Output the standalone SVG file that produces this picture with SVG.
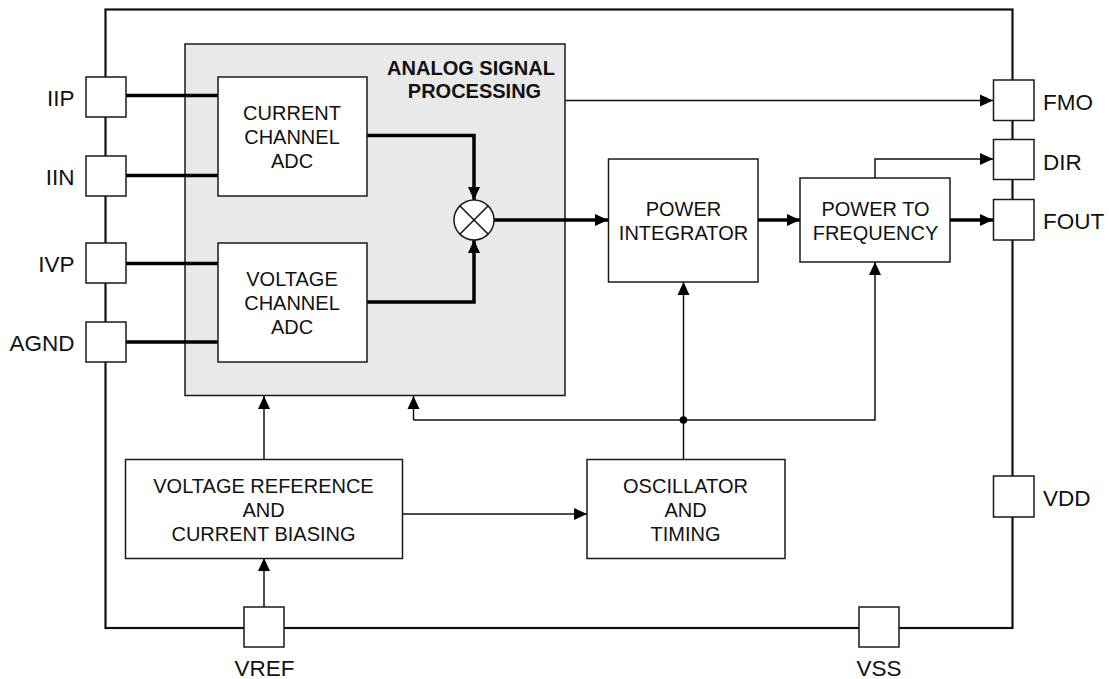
<svg xmlns="http://www.w3.org/2000/svg" width="1109" height="679" viewBox="0 0 1109 679">
<style>
.b{fill:#fff;stroke:#1a1a1a;stroke-width:1.5}
.w{fill:none;stroke:#111;stroke-width:1.5}
.t{fill:none;stroke:#000;stroke-width:3.5}
text{font-family:"Liberation Sans",Arial,sans-serif;font-size:20px;fill:#111;text-anchor:middle}
.l{font-size:22.5px}
.e{text-anchor:end}
.s{text-anchor:start}
.h{font-weight:700}
</style>
<defs>
<marker id="a" markerUnits="userSpaceOnUse" markerWidth="14" markerHeight="14" refX="13" refY="7" orient="auto"><path d="M0,1 L13,7 L0,13 Z" fill="#000"/></marker>
</defs>
<rect id="chip" x="105.500" y="9.500" width="907" height="618.500" fill="none" stroke="#111" stroke-width="2.200"/>
<g id="analog"><rect x="185" y="44" width="380" height="351.500" fill="#e9e9e9" stroke="#1a1a1a" stroke-width="1.500"/>
<text class="h" x="471" y="75">ANALOG SIGNAL</text><text class="h" x="474.500" y="98">PROCESSING</text></g>
<g id="connectors">
<path class="t" d="M126,95.500H218M126,175.500H218M126,263.500H218M126,342H218"/>
<path class="t" d="M367,135.500H474V200" marker-end="url(#a)"/>
<path class="t" d="M367,302H474V240" marker-end="url(#a)"/>
<path class="t" d="M494,220H608" marker-end="url(#a)"/>
<path class="t" d="M758,220H800" marker-end="url(#a)"/>
<path class="t" d="M950,220H993" marker-end="url(#a)"/>
<path class="w" d="M565,100.500H993" marker-end="url(#a)"/>
<path class="w" d="M875,178V159H993" marker-end="url(#a)"/>
<path class="w" d="M683.500,459V282" marker-end="url(#a)"/>
<path class="w" d="M413.500,420V396" marker-end="url(#a)"/>
<path class="w" d="M413.500,420H875V262" marker-end="url(#a)"/>
<path class="w" d="M264,459V396" marker-end="url(#a)"/>
<path class="w" d="M264,607V558" marker-end="url(#a)"/>
<path class="w" d="M402,514H587" marker-end="url(#a)"/>
<circle cx="683.500" cy="420" r="3.800" fill="#000"/>
</g>
<g id="adc-current"><rect class="b" x="218" y="77" width="149" height="119"/><text x="292" y="120">CURRENT</text><text x="292" y="144">CHANNEL</text><text x="292" y="167.500">ADC</text></g>
<g id="adc-voltage"><rect class="b" x="218" y="243" width="149" height="119"/><text x="292" y="286">VOLTAGE</text><text x="292" y="310">CHANNEL</text><text x="292" y="333.500">ADC</text></g>
<g id="multiplier"><circle class="b" cx="474" cy="220" r="20"/><path class="w" d="M460,206L488,234M488,206L460,234"/></g>
<g id="integrator"><rect class="b" x="608.500" y="159" width="149.500" height="123"/><text x="683.500" y="216">POWER</text><text x="683.500" y="240">INTEGRATOR</text></g>
<g id="p2f"><rect class="b" x="800" y="178" width="150" height="84"/><text x="875.500" y="216">POWER TO</text><text x="875.500" y="240">FREQUENCY</text></g>
<g id="vref-block"><rect class="b" x="125.500" y="459.500" width="277" height="99"/><text x="263.500" y="492.500">VOLTAGE REFERENCE</text><text x="263.500" y="516.500">AND</text><text x="263.500" y="540.500">CURRENT BIASING</text></g>
<g id="osc"><rect class="b" x="587" y="459.500" width="198" height="99"/><text x="685.500" y="492.500">OSCILLATOR</text><text x="685.500" y="516.500">AND</text><text x="685.500" y="540.500">TIMING</text></g>
<g id="pin-iip"><rect class="b" x="86" y="77" width="40" height="40"/><text class="l e" x="74.500" y="106">IIP</text></g>
<g id="pin-iin"><rect class="b" x="86" y="156" width="40" height="40"/><text class="l e" x="74.500" y="185">IIN</text></g>
<g id="pin-ivp"><rect class="b" x="86" y="243" width="40" height="40"/><text class="l e" x="74.500" y="272">IVP</text></g>
<g id="pin-agnd"><rect class="b" x="86" y="322" width="40" height="40"/><text class="l e" x="74.500" y="351">AGND</text></g>
<g id="pin-fmo"><rect class="b" x="993.500" y="80" width="40.500" height="40.500"/><text class="l s" x="1043" y="110">FMO</text></g>
<g id="pin-dir"><rect class="b" x="993.500" y="139.500" width="40.500" height="40"/><text class="l s" x="1043" y="169.500">DIR</text></g>
<g id="pin-fout"><rect class="b" x="993.500" y="199.500" width="40.500" height="40.500"/><text class="l s" x="1043" y="229">FOUT</text></g>
<g id="pin-vdd"><rect class="b" x="993.500" y="476" width="40.500" height="41"/><text class="l s" x="1043" y="506">VDD</text></g>
<g id="pin-vref"><rect class="b" x="244" y="607" width="40" height="40"/><text class="l" x="264.500" y="676">VREF</text></g>
<g id="pin-vss"><rect class="b" x="859" y="607" width="40" height="40"/><text class="l" x="879" y="676">VSS</text></g>
</svg>
